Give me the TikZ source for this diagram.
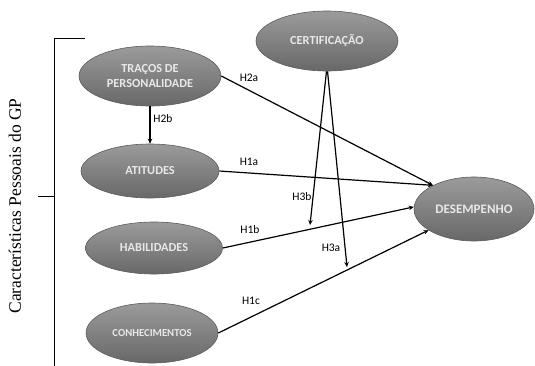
\documentclass[tikz,border=0pt]{standalone}
\usepackage{fontspec}
\setmainfont{Liberation Serif}
\newfontfamily\calib{Carlito}
\usetikzlibrary{shapes.geometric,arrows.meta}
\definecolor{elltop}{RGB}{155,155,155}
\definecolor{ellbot}{RGB}{104,104,104}
\definecolor{ellline}{RGB}{92,92,92}
\definecolor{elltext}{RGB}{232,232,232}
\tikzset{
  oval/.style={ellipse, draw=ellline, line width=0.6pt, top color=elltop, bottom color=ellbot,
    inner sep=0pt, text=elltext, align=center,
    font=\calib\bfseries\fontsize{12.3}{15}\selectfont},
  conn/.style={line width=1.2pt, -{Stealth[length=5pt,width=4.5pt]}},
  lab/.style={font=\calib\fontsize{11.5}{13}\selectfont, inner sep=0pt},
  brk/.style={line width=1pt}
}
\begin{document}
\begin{tikzpicture}[x=1pt,y=-1pt]
\useasboundingbox (0,0) rectangle (535,365);
% bracket
\coordinate (bt) at (54,38);
\coordinate (btr) at (85,38);
\coordinate (bb) at (54,366);
\coordinate (bm) at (54,196);
\coordinate (bml) at (38,196);
\draw[brk] (btr) -- (bt) -- (bb);
\draw[brk] (bm) -- (bml);
\node[rotate=90, font=\fontsize{17.5}{20}\selectfont, inner sep=0pt] (side) at (15,206) {Características Pessoais do GP};
% ellipses
\node[oval, minimum width=142pt, minimum height=60pt] (trac) at (150,76) {TRAÇOS DE\\PERSONALIDADE};
\node[oval, minimum width=138pt, minimum height=54pt] (atit) at (150,171) {ATITUDES};
\node[oval, minimum width=137pt, minimum height=52pt] (habi) at (154,248) {HABILIDADES};
\node[oval, minimum width=132pt, minimum height=60pt, font=\calib\bfseries\fontsize{10.7}{13}\selectfont] (conh) at (152,333) {CONHECIMENTOS};
\node[oval, minimum width=142pt, minimum height=60pt] (cert) at (327,41) {CERTIFICAÇÃO};
\node[oval, minimum width=120pt, minimum height=64pt, font=\calib\bfseries\fontsize{13}{15}\selectfont] (dese) at (474,209) {DESEMPENHO};
% free ends
\coordinate (e3b) at (310,225);
\coordinate (e3a) at (347,267);
% connectors
\draw[conn] (trac.east) -- (dese.150);
\draw[conn] (trac.south) -- (atit.north);
\draw[conn] (atit.east) -- (dese.150);
\draw[conn] (habi.east) -- (dese.178);
\draw[conn] (conh.east) -- (dese.205);
\draw[conn] (cert.-91) -- (e3b);
\draw[conn] (cert.-89) -- (e3a);
% labels
\node[lab] (l2a) at (249,78) {H2a};
\node[lab] (l2b) at (163,119) {H2b};
\node[lab] (l1a) at (249,162) {H1a};
\node[lab] (l1b) at (250,230) {H1b};
\node[lab] (l1c) at (251,301) {H1c};
\node[lab] (l3b) at (302,197) {H3b};
\node[lab] (l3a) at (331,248) {H3a};
\end{tikzpicture}
\end{document}
